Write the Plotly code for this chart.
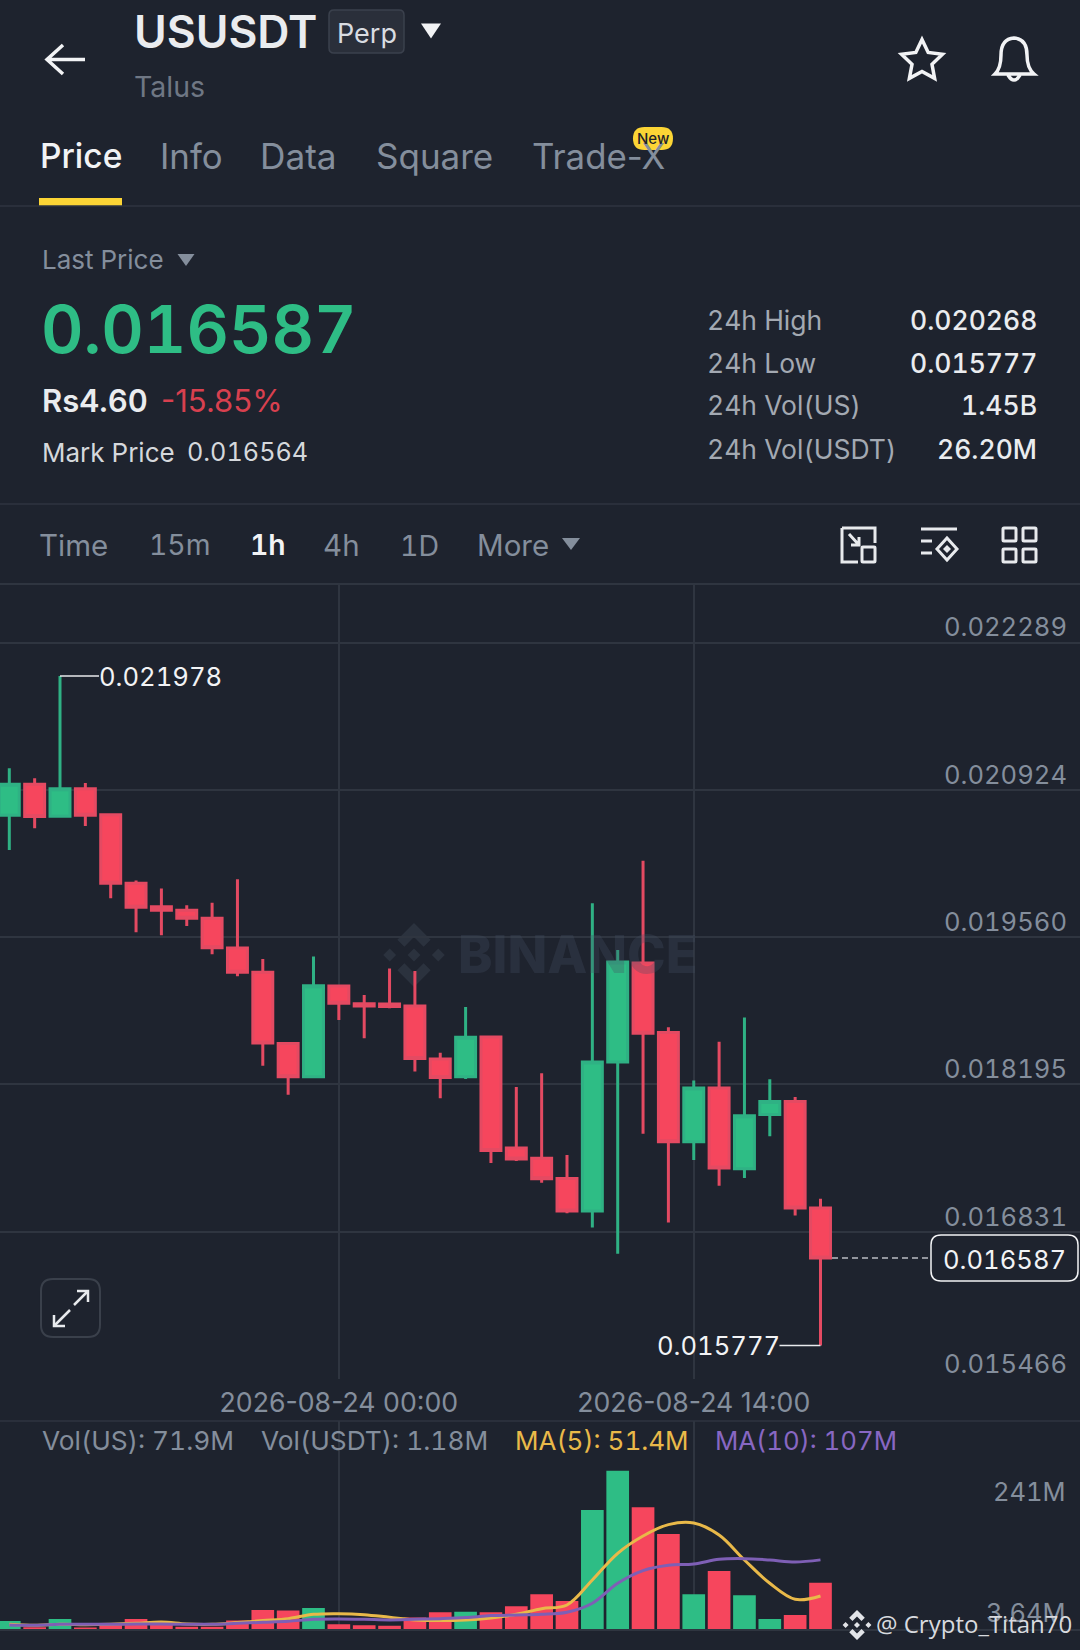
import math
from datetime import datetime, timedelta
import plotly.graph_objects as go

# ---------- data ----------
opens = [0.020688, 0.020975, 0.020679, 0.020935, 0.020694, 0.020058, 0.019842, 0.019808, 0.019734, 0.019459, 0.019234,
         0.018573, 0.018267, 0.019107, 0.018943, 0.018940, 0.018922, 0.018431, 0.018267, 0.018635, 0.017606, 0.017512,
         0.017324, 0.017023, 0.018402, 0.019320, 0.018675, 0.017664, 0.018161, 0.017413, 0.017916, 0.018037, 0.017051]
highs = [0.021124, 0.021031, 0.021978, 0.020988, 0.020707, 0.020083, 0.020009, 0.019854, 0.019879, 0.020095, 0.019357,
         0.018573, 0.019379, 0.019107, 0.019024, 0.019268, 0.019246, 0.018489, 0.018913, 0.018647, 0.018171, 0.018299,
         0.017540, 0.019873, 0.019440, 0.020268, 0.018724, 0.018232, 0.018590, 0.018816, 0.018242, 0.018079, 0.017136]
lows = [0.020367, 0.020568, 0.020679, 0.020589, 0.019919, 0.019604, 0.019576, 0.019663, 0.019400, 0.019197, 0.018369,
        0.018100, 0.018261, 0.018792, 0.018622, 0.018900, 0.018314, 0.018067, 0.018246, 0.017467, 0.017486, 0.017285,
        0.017001, 0.016870, 0.016626, 0.017739, 0.016916, 0.017494, 0.017257, 0.017328, 0.017714, 0.016980, 0.015777]
closes = [0.020975, 0.020676, 0.020935, 0.020688, 0.020058, 0.019836, 0.019808, 0.019734, 0.019462, 0.019234, 0.018579,
          0.018267, 0.019110, 0.018947, 0.018922, 0.018916, 0.018434, 0.018258, 0.018632, 0.017583, 0.017504, 0.017320,
          0.017023, 0.018402, 0.019330, 0.018668, 0.017664, 0.018161, 0.017420, 0.017905, 0.018037, 0.017051, 0.016587]
volumes = [12.8, 3.1, 15.9, 2.6, 7.7, 15.9, 11.3, 4.1, 4.1, 13.4, 29.8, 28.8, 32.9, 7.7, 6.2, 5.6, 18.0, 26.2, 27.2,
           26.2, 35.4, 53.9, 43.7, 183.9, 244.5, 188.0, 146.9, 53.9, 89.9, 52.4, 15.9, 22.1, 71.9]
ma5 = [7.7, 6.2, 7.7, 7.2, 7.7, 9.2, 11.3, 8.2, 7.7, 10.3, 13.4, 16.4, 23.1, 24.1, 22.6, 18.5, 14.4, 13.4, 14.4, 17.5,
       23.1, 31.8, 37.5, 76.0, 117.1, 143.8, 161.3, 163.8, 145.3, 106.8, 70.9, 46.2, 51.4]
ma10 = [6.7, 6.2, 7.7, 7.7, 7.7, 8.2, 8.2, 7.7, 7.7, 9.2, 10.8, 12.3, 15.4, 15.9, 15.4, 14.4, 15.4, 16.4, 18.0, 21.1,
        22.1, 23.1, 26.2, 40.1, 70.9, 90.4, 98.6, 100.7, 107.9, 108.9, 106.8, 103.7, 107.0]
price_ticks = [0.022289, 0.020924, 0.019560, 0.018195, 0.016831, 0.015466]
price_labels = ["0.022289", "0.020924", "0.019560", "0.018195", "0.016831", "0.015466"]
time_ticks = ["2026-08-24 00:00", "2026-08-24 14:00"]
first_time = datetime(2026, 8, 23, 11, 0)
times = [first_time + timedelta(hours=i) for i in range(len(opens))]
last_price = 0.016587

# ---------- style ----------
W, H = 1080, 1650
BG = "#1E232E"
GRID = "#2F3540"
GREEN = "#2EBD85"
RED = "#F6465D"
GREY = "#848E9C"
WHITE = "#EAECEF"
YELLOW = "#FCD535"
FONT = "Inter"


def px(x):
    return x / W


def py(y):
    return 1 - y / H


def P(x, y):
    return f"{px(x):.5f},{py(y):.5f}"


ann, shapes = [], []


def T(x, y, s, size, color=GREY, anchor="left", weight=400, family=FONT):
    ann.append(dict(x=px(x), y=py(y), xref="paper", yref="paper", text=s, showarrow=False, xanchor=anchor,
                    yanchor="middle", font=dict(family=family, size=size, color=color, weight=weight), borderpad=0))


def path(d, fill=None, line=None, width=2, layer="above"):
    shapes.append(dict(type="path", path=d, xref="paper", yref="paper", layer=layer,
                       fillcolor=fill or "rgba(0,0,0,0)", line=dict(color=line or "rgba(0,0,0,0)", width=width if line else 0)))


def poly(pts, close=True):
    return "M " + " L ".join(P(*p) for p in pts) + (" Z" if close else "")


def rrect(x0, y0, x1, y1, r):
    return (f"M {P(x0 + r, y0)} L {P(x1 - r, y0)} Q {P(x1, y0)} {P(x1, y0 + r)} L {P(x1, y1 - r)} Q {P(x1, y1)} {P(x1 - r, y1)} "
            f"L {P(x0 + r, y1)} Q {P(x0, y1)} {P(x0, y1 - r)} L {P(x0, y0 + r)} Q {P(x0, y0)} {P(x0 + r, y0)} Z")


def tri(cx, cy, w, h, color):
    path(poly([(cx - w / 2, cy - h / 2), (cx + w / 2, cy - h / 2), (cx, cy + h / 2)]), fill=color)


def logo(cx, cy, r, color, layer="above"):
    def s(pts):
        return poly([(cx + a * r, cy + b * r) for a, b in pts])
    d = [[(0, -.2), (.2, 0), (0, .2), (-.2, 0)],
         [(-.76, -.2), (-.56, 0), (-.76, .2), (-.96, 0)],
         [(.76, -.2), (.96, 0), (.76, .2), (.56, 0)],
         [(0, -1), (.52, -.48), (.3, -.26), (0, -.56), (-.3, -.26), (-.52, -.48)],
         [(0, 1), (.52, .48), (.3, .26), (0, .56), (-.3, .26), (-.52, .48)]]
    path(" ".join(s(p) for p in d), fill=color, layer=layer)


def hline(y, x0=0, x1=W, color=GRID, width=1.5):
    shapes.append(dict(type="line", xref="paper", yref="paper", x0=px(x0), x1=px(x1), y0=py(y), y1=py(y),
                       line=dict(color=color, width=width)))


# ---------- header ----------
path(poly([(85, 59.5), (47, 59.5)], False) + " " + poly([(63, 45), (47, 59.5), (63, 74)], False), line="#F2F3F5", width=3.5)
T(133, 32, "USUSDT", 44.5, "#EAECEF", weight=600)
path(rrect(329, 10, 404, 53, 5), fill="#2A2F3A", line="#3B414D", width=1.5)
T(366.5, 33, "Perp", 27, "#D9DCE1", "center")
tri(431, 31, 20, 15, "#F2F3F5")
T(133, 86.5, "Talus", 28.5, "#6F7784")
star = []
for k in range(10):
    R = 21.5 if k % 2 == 0 else 10.5
    star.append((922 + R * math.sin(k * math.pi / 5), 61 - R * math.cos(k * math.pi / 5)))
path(poly(star), line="#F2F3F5", width=3.5)
bell = (f"M {P(995, 74)} Q {P(1001, 68)} {P(1001, 55)} Q {P(1001, 39)} {P(1014, 38)} Q {P(1027, 39)} {P(1027, 55)} "
        f"Q {P(1027, 68)} {P(1034, 74)} Z M {P(1008, 75)} Q {P(1014, 85)} {P(1020, 75)}")
path(bell, line="#F2F3F5", width=3.5)

T(39, 156, "Price", 33.5, "#F2F3F5", weight=500)
T(159, 156, "Info", 34.8)
T(259, 156, "Data", 35.2)
T(375, 156, "Square", 35)
T(531, 156, "Trade-X", 34.8)
path(rrect(633, 127, 673, 150, 11.5), fill=YELLOW)
T(653, 138.5, "New", 15, "#1E2329", "center", 500)
shapes.append(dict(type="rect", xref="paper", yref="paper", x0=px(39), x1=px(122), y0=py(206), y1=py(198),
                   fillcolor=YELLOW, line=dict(width=0)))
hline(206)

T(41, 259, "Last Price", 26)
tri(186, 260, 17, 12, GREY)
T(40, 329, "0.016587", 65.8, GREEN, weight=600)
T(41, 400, "Rs4.60", 31, "#EAECEF", weight=600)
T(160, 400, "-15.85%", 31, "#D8404F")
T(41, 452, "Mark Price", 26, "#D5D8DC")
T(186, 452, "0.016564", 25.2, "#D5D8DC")
stat_y = [320, 363, 405, 449]
stat_names = ["24h High", "24h Low", "24h Vol(US)", "24h Vol(USDT)"]
stat_vals = ["0.020268", "0.015777", "1.45B", "26.20M"]
for yy, a, b in zip(stat_y, stat_names, stat_vals):
    T(706, yy, a, 26.5, "#A3A9B2")
    T(1038, yy, b, 26.5, "#EAECEF", "right", 500)
hline(504)

for x, s, c, w, z in [(38, "Time", GREY, 400, 29.5), (148, "15m", GREY, 400, 28.3), (249, "1h", "#F2F3F5", 600, 28.3),
                      (322, "4h", GREY, 400, 29.5), (399, "1D", GREY, 400, 28.5), (476, "More", GREY, 400, 29.5)]:
    T(x, 545, s, z, c, weight=w)
tri(571, 544, 18, 12, GREY)
# toolbar icons
path(poly([(842, 528), (875, 528), (875, 543)], False) + " " + poly([(858, 562), (842, 562), (842, 528)], False), line="#E8EAED", width=3)
path(rrect(862, 547, 875, 562, 1), line="#E8EAED", width=3)
path(poly([(849, 534), (859, 545)], False) + " " + poly([(851, 545), (859, 545), (859, 537)], False), line="#E8EAED", width=3)
path(poly([(921, 529), (957, 529)], False) + " " + poly([(921, 541), (932, 541)], False) + " " + poly([(921, 553), (932, 553)], False)
     + " " + poly([(947, 538), (957, 549), (947, 560), (937, 549)]), line="#E8EAED", width=3)
path(poly([(947, 545), (951, 549), (947, 553), (943, 549)]), fill="#E8EAED")
for a, b in [(1003, 528), (1023, 528), (1003, 549), (1023, 549)]:
    path(rrect(a, b, a + 13, b + 13, 1), line="#E8EAED", width=3)
hline(584, width=2)

# ---------- chart furniture ----------
logo(414, 955, 32, "#2B323E", layer="below")
ann.append(dict(x=px(456), y=py(955), xref="paper", yref="paper", text="BINANCE", showarrow=False, xanchor="left", yanchor="middle",
                font=dict(family="Inter", size=52, color="rgba(70,80,98,0.30)", weight=800)))
for x0, y0, x1, y1 in [(54, 1326, 70, 1310), (74, 1305, 88, 1291)]:
    path(poly([(x0, y0), (x1, y1)], False), line="#E8EAED", width=2.5)
path(poly([(54, 1315), (54, 1326), (65, 1326)], False) + " " + poly([(77, 1291), (88, 1291), (88, 1302)], False), line="#E8EAED", width=2.5)
path(rrect(41, 1279, 100, 1337, 12), line="#3A404B", width=2)

# last price line and tag
shapes.append(dict(type="line", xref="paper", yref="y", x0=px(832), x1=px(931), y0=last_price, y1=last_price,
                   line=dict(color="#B9BCC2", width=1.5, dash="6px,4px")))
path(rrect(931, 1235, 1078, 1281, 10), fill=BG, line="#F2F3F5", width=1.5)
T(1067, 1259, "0.016587", 25.6, "#F2F3F5", "right")

# high / low callouts
i_hi, i_lo = highs.index(max(highs)), lows.index(min(lows))
shapes.append(dict(type="line", xref="x", yref="y", xsizemode="pixel", xanchor=times[i_hi], x0=0, x1=39,
                   y0=highs[i_hi], y1=highs[i_hi], line=dict(color="#E8EAED", width=1.5)))
shapes.append(dict(type="line", xref="x", yref="y", xsizemode="pixel", xanchor=times[i_lo], x0=-41, x1=0,
                   y0=lows[i_lo], y1=lows[i_lo], line=dict(color="#E8EAED", width=1.5)))
ann.append(dict(x=times[i_hi], y=highs[i_hi], xref="x", yref="y", text=f"{highs[i_hi]:.6f}", showarrow=False, xanchor="left",
                yanchor="middle", xshift=37, font=dict(family=FONT, size=25.6, color="#F2F3F5")))
ann.append(dict(x=times[i_lo], y=lows[i_lo], xref="x", yref="y", text=f"{lows[i_lo]:.6f}", showarrow=False, xanchor="right",
                yanchor="middle", xshift=-39, font=dict(family=FONT, size=25.6, color="#F2F3F5")))

# volume panel texts
T(41, 1440, "Vol(US): 71.9M", 26.3)
T(260, 1440, "Vol(USDT): 1.18M", 26.3)
T(514, 1440, "MA(5): 51.4M", 26, "#E9B949")
T(714, 1440, "MA(10): 107M", 25.8, "#8867C2")
hline(1421)
T(1067, 1491, "241M", 25.5, GREY, "right")
T(1067, 1612, "3.64M", 25.5, GREY, "right")
logo(857, 1625, 15, "#E2E4E8")
T(875, 1623, "@ Crypto_Titan70", 24, "#D8DADF", family="Open Sans")

# ---------- traces ----------
fig = go.Figure()
fig.add_trace(go.Candlestick(
    x=times, open=opens, high=highs, low=lows, close=closes, xaxis="x", yaxis="y", whiskerwidth=0,
    increasing=dict(line=dict(color="#2FB184", width=3), fillcolor=GREEN),
    decreasing=dict(line=dict(color="#E44A62", width=3), fillcolor=RED), showlegend=False))
bar_colors = [GREEN if c >= o else RED for o, c in zip(opens, closes)]
fig.add_trace(go.Bar(x=times, y=volumes, marker=dict(color=bar_colors, line=dict(width=0)), xaxis="x2", yaxis="y2", showlegend=False))
fig.add_trace(go.Scatter(x=times, y=ma5, mode="lines", line=dict(color="#E9B949", width=3, shape="spline"), xaxis="x2", yaxis="y2", showlegend=False))
fig.add_trace(go.Scatter(x=times, y=ma10, mode="lines", line=dict(color="#7E5FB5", width=3, shape="spline"), xaxis="x2", yaxis="y2", showlegend=False))

x_range = [first_time - timedelta(hours=9.3 / 25.35), first_time + timedelta(hours=(W - 9.3) / 25.35)]
per_px = (price_ticks[0] - price_ticks[-1]) / (5 * 147.3)
axis_common = dict(type="date", range=x_range, tickvals=time_ticks, showgrid=True, gridcolor=GRID, gridwidth=1.5, zeroline=False, ticks="",
                   rangeslider=dict(visible=False))
fig.update_layout(
    width=W, height=H, autosize=False, margin=dict(l=0, r=0, t=0, b=0), paper_bgcolor=BG, plot_bgcolor=BG,
    font=dict(family=FONT), showlegend=False, boxgap=0.1, boxgroupgap=0.125, bargap=0.105, hovermode=False,
    annotations=ann, shapes=shapes,
    xaxis=dict(axis_common, domain=[0, 1], anchor="y", showline=False, tickformat="%Y-%m-%d %H:%M", showticklabels=True,
               tickfont=dict(family=FONT, size=26.7, color=GREY), ticklabelstandoff=5),
    xaxis2=dict(axis_common, domain=[0, 1], anchor="y2", showline=True, linecolor=GRID, linewidth=1.5, showticklabels=False),
    yaxis=dict(domain=[py(1379), py(584)], range=[price_ticks[-1], price_ticks[-1] + (1379 - 584) * per_px], anchor="x", side="right",
               tickvals=price_ticks, ticktext=price_labels, showgrid=True, gridcolor=GRID, gridwidth=1.5, zeroline=False, ticks="",
               ticklabelposition="inside", ticklabelshift=-15, ticklabelstandoff=10,
               tickfont=dict(family=FONT, size=25.6, color=GREY)),
    yaxis2=dict(domain=[py(1629.3), py(1421)], range=[0, 321], anchor="x2", side="right", showgrid=False, zeroline=False,
                showticklabels=False, ticks=""),
)
post = """
document.body.style.margin='0';
document.body.style.background='%s';
var st=document.createElement('style');
st.textContent='text[data-unformatted]:not([data-unformatted*="-"]){font-feature-settings:"tnum" 1;font-variant-numeric:tabular-nums;}';
document.head.appendChild(st);
var gd=document.getElementById('{plot_id}');
var a=JSON.parse(JSON.stringify(gd.layout.annotations));
a.forEach(function(t){t.font.size+=0.01;});
Plotly.relayout(gd,{annotations:a});
""" % BG
fig.write_html("out.html", config=dict(displayModeBar=False), post_script=post)
